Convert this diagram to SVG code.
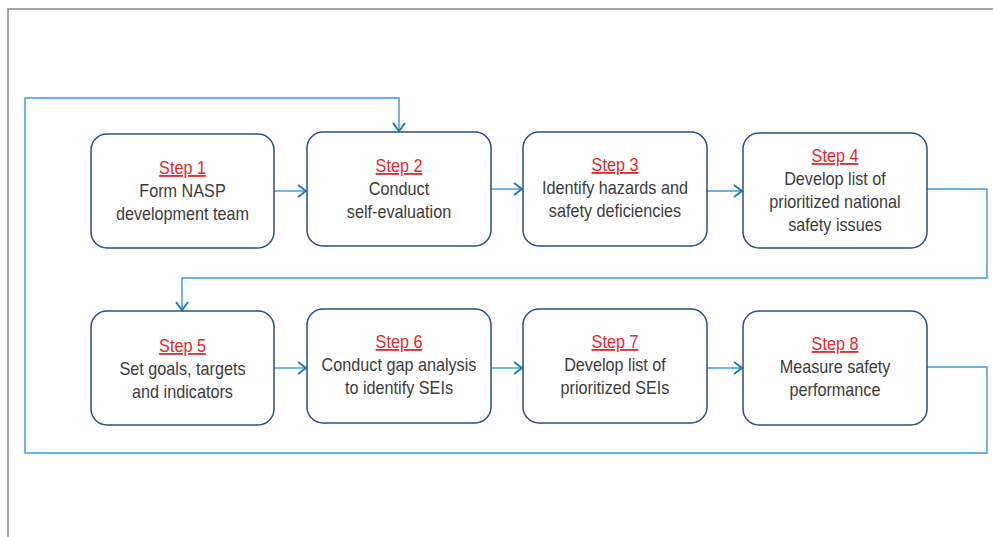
<svg xmlns="http://www.w3.org/2000/svg" width="993" height="537" viewBox="0 0 993 537">
<style>
.box{fill:#ffffff;stroke:#2b4f7e;stroke-width:1.5}
.conn{fill:none;stroke:#3e9ad3;stroke-width:1.4}
.t{font-family:"Liberation Sans",Arial,sans-serif;font-size:18px;fill:#3c3c3c;text-anchor:middle}
.s{fill:#e8262c;text-decoration:underline}
</style>
<defs>
<marker id="ah" markerUnits="userSpaceOnUse" markerWidth="14" markerHeight="16" refX="9" refY="7" orient="auto" viewBox="0 0 14 14">
<path d="M1,1 L9,7 L1,13" fill="none" stroke="#1a7cc0" stroke-width="2"/>
</marker>
</defs>
<rect x="8" y="9" width="1100" height="700" fill="#ffffff" stroke="#8c8c8c" stroke-width="1.5"/>
<g id="connectors">
<path class="conn" d="M274,191 H306" marker-end="url(#ah)"/>
<path class="conn" d="M491,189 H522" marker-end="url(#ah)"/>
<path class="conn" d="M707,191 H742" marker-end="url(#ah)"/>
<path class="conn" d="M927,189 H987 V278 H182 V310" marker-end="url(#ah)"/>
<path class="conn" d="M274,368 H306" marker-end="url(#ah)"/>
<path class="conn" d="M491,368 H522" marker-end="url(#ah)"/>
<path class="conn" d="M707,368 H742" marker-end="url(#ah)"/>
<path class="conn" d="M927,367 H987 V453 H25 V98 H399 V131" marker-end="url(#ah)"/>
</g>
<g id="step1">
<rect class="box" x="91" y="134" width="183" height="114" rx="16"/>
<g transform="translate(182.5 0) scale(0.9 1)"><text class="t"><tspan class="s" x="0" y="174">Step 1</tspan><tspan x="0" y="197">Form NASP</tspan><tspan x="0" y="220">development team</tspan></text></g>
</g>
<g id="step2">
<rect class="box" x="307" y="132" width="184" height="114" rx="16"/>
<g transform="translate(399 0) scale(0.9 1)"><text class="t"><tspan class="s" x="0" y="172">Step 2</tspan><tspan x="0" y="195">Conduct</tspan><tspan x="0" y="218">self-evaluation</tspan></text></g>
</g>
<g id="step3">
<rect class="box" x="523" y="132" width="184" height="114" rx="16"/>
<g transform="translate(615 0) scale(0.9 1)"><text class="t"><tspan class="s" x="0" y="171">Step 3</tspan><tspan x="0" y="194">Identify hazards and</tspan><tspan x="0" y="217">safety deficiencies</tspan></text></g>
</g>
<g id="step4">
<rect class="box" x="743" y="133" width="184" height="115" rx="16"/>
<g transform="translate(835 0) scale(0.9 1)"><text class="t"><tspan class="s" x="0" y="162">Step 4</tspan><tspan x="0" y="185">Develop list of</tspan><tspan x="0" y="208">prioritized national</tspan><tspan x="0" y="231">safety issues</tspan></text></g>
</g>
<g id="step5">
<rect class="box" x="91" y="311" width="183" height="114" rx="16"/>
<g transform="translate(182.5 0) scale(0.9 1)"><text class="t"><tspan class="s" x="0" y="352">Step 5</tspan><tspan x="0" y="375">Set goals, targets</tspan><tspan x="0" y="398">and indicators</tspan></text></g>
</g>
<g id="step6">
<rect class="box" x="307" y="309" width="184" height="114" rx="16"/>
<g transform="translate(399 0) scale(0.9 1)"><text class="t"><tspan class="s" x="0" y="348">Step 6</tspan><tspan x="0" y="371">Conduct gap analysis</tspan><tspan x="0" y="394">to identify SEIs</tspan></text></g>
</g>
<g id="step7">
<rect class="box" x="523" y="309" width="184" height="114" rx="16"/>
<g transform="translate(615 0) scale(0.9 1)"><text class="t"><tspan class="s" x="0" y="348">Step 7</tspan><tspan x="0" y="371">Develop list of</tspan><tspan x="0" y="394">prioritized SEIs</tspan></text></g>
</g>
<g id="step8">
<rect class="box" x="743" y="311" width="184" height="114" rx="16"/>
<g transform="translate(835 0) scale(0.9 1)"><text class="t"><tspan class="s" x="0" y="350">Step 8</tspan><tspan x="0" y="373">Measure safety</tspan><tspan x="0" y="396">performance</tspan></text></g>
</g>
</svg>
